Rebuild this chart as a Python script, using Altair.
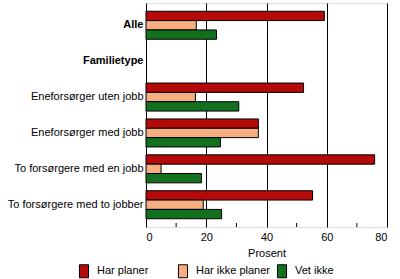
import altair as alt
import pandas as pd

categories = ["Alle", "Familietype", "Eneforsørger uten jobb", "Eneforsørger med jobb",
              "To forsørgere med en jobb", "To forsørgere med to jobber"]
series = ["Har planer", "Har ikke planer", "Vet ikke"]
har_planer = [59.2, None, 52.3, 37.3, 75.9, 55.3]
har_ikke_planer = [16.7, None, 16.4, 37.3, 5.0, 19.0]
vet_ikke = [23.4, None, 30.8, 24.7, 18.4, 25.1]
x_ticks = [0, 20, 40, 60, 80]
minor_ticks = [10, 30, 50, 70]
colors = ["#B40A0A", "#F6AE80", "#13701E"]

rows = []
for i, c in enumerate(categories):
    for s, vals in zip(series, [har_planer, har_ikke_planer, vet_ikke]):
        if vals[i] is not None:
            rows.append({"kategori": c, "serie": s, "verdi": vals[i]})
df = pd.DataFrame(rows)

font = "Liberation Sans"

bars = alt.Chart(df).mark_bar(stroke="black", strokeWidth=1).encode(
    x=alt.X("verdi:Q", scale=alt.Scale(domain=[0, 80], nice=False),
            axis=alt.Axis(values=x_ticks, title="Prosent", grid=True, gridColor="black",
                          gridOpacity=1, ticks=False, domain=False, labelFont=font,
                          labelFontSize=11, labelColor="black", titleFont=font,
                          titleFontSize=11, titleFontWeight="normal", titleColor="black",
                          labelPadding=4, titlePadding=5)),
    y=alt.Y("kategori:N", sort=categories,
            scale=alt.Scale(domain=categories, paddingInner=0.22, paddingOuter=0.23),
            axis=alt.Axis(title=None, ticks=False, domain=False, labelFont=font,
                          labelFontSize=11, labelColor="black", labelPadding=3,
                          labelLimit=200,
                          labelFontWeight=alt.expr("datum.value == 'Alle' || datum.value == 'Familietype' ? 'bold' : 'normal'"))),
    yOffset=alt.YOffset("serie:N", sort=series, scale=alt.Scale(domain=series, paddingInner=0, paddingOuter=0)),
    fill=alt.Fill("serie:N", sort=series,
                  scale=alt.Scale(domain=series, range=colors),
                  legend=alt.Legend(title=None, orient="none", legendX=-69, legendY=261,
                                    direction="horizontal", columns=3, columnPadding=5,
                                    gridAlign="all",
                                    labelFont=font, labelFontSize=11, labelColor="black",
                                    symbolType="M-0.7,-1L0.7,-1L0.7,1L-0.7,1Z", symbolSize=169,
                                    symbolStrokeColor="black", symbolStrokeWidth=1,
                                    labelOffset=6)),
)

ticks_df = pd.DataFrame({"t": minor_ticks})
minor = alt.Chart(ticks_df).mark_rule(color="black").encode(
    x="t:Q", y=alt.value(220), y2=alt.value(224)
)

chart = alt.layer(bars, minor).properties(
    width=241, height=224,
    autosize=alt.AutoSizeParams(type="none"),
    padding={"left": 146, "top": 3, "right": 13, "bottom": 52},
).configure_view(stroke="black", strokeWidth=1).configure(background="white")

chart.save("out.html", embed_options={"renderer": "svg", "actions": False})
